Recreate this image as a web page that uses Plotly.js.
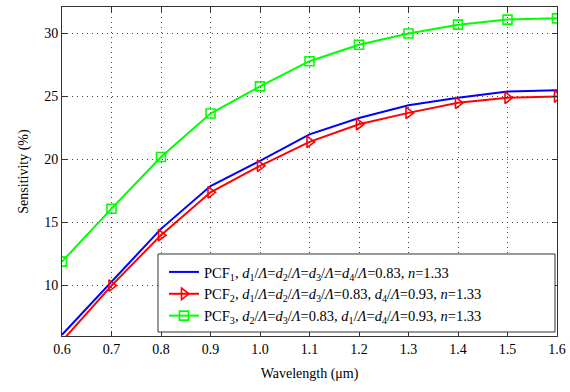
<!DOCTYPE html>
<html><head><meta charset="utf-8">
<script src="https://cdn.plot.ly/plotly-3.0.1.min.js"></script>
<style>body{margin:0;background:#fff}#c{width:570px;height:392px}</style>
</head><body><div id="c"></div>
<script>
const wavelength = [0.6,0.7,0.8,0.9,1.0,1.1,1.2,1.3,1.4,1.5,1.6];
const pcf1 = [6.1,10.3,14.5,17.9,19.9,22.0,23.3,24.3,24.9,25.4,25.5];
const pcf2 = [5.6,10.0,14.0,17.4,19.5,21.4,22.8,23.7,24.5,24.9,25.0];
const pcf3 = [11.9,16.1,20.2,23.65,25.8,27.8,29.1,30.0,30.7,31.1,31.2];
const xTicks = [0.6,0.7,0.8,0.9,1.0,1.1,1.2,1.3,1.4,1.5,1.6];
const xTickText = ['0.6','0.7','0.8','0.9','1.0','1.1','1.2','1.3','1.4','1.5','1.6'];
const yTicks = [10,15,20,25,30];
const names = [
 'PCF<sub>1</sub>, <i>d</i><sub>1</sub>/<i>Λ</i>=<i>d</i><sub>2</sub>/<i>Λ</i>=<i>d</i><sub>3</sub>/<i>Λ</i>=<i>d</i><sub>4</sub>/<i>Λ</i>=0.83, <i>n</i>=1.33',
 'PCF<sub>2</sub>, <i>d</i><sub>1</sub>/<i>Λ</i>=<i>d</i><sub>2</sub>/<i>Λ</i>=<i>d</i><sub>3</sub>/<i>Λ</i>=0.83, <i>d</i><sub>4</sub>/<i>Λ</i>=0.93, <i>n</i>=1.33',
 'PCF<sub>3</sub>, <i>d</i><sub>2</sub>/<i>Λ</i>=<i>d</i><sub>3</sub>/<i>Λ</i>=0.83, <i>d</i><sub>1</sub>/<i>Λ</i>=<i>d</i><sub>4</sub>/<i>Λ</i>=0.93, <i>n</i>=1.33'
];
const FAM = 'Times New Roman, Liberation Serif, DejaVu Serif, serif';
function F(s){return {family:FAM, color:'#000', size:s};}
const traces = [
 {x:wavelength,y:pcf1,name:names[0],mode:'lines',line:{color:'#0000ff',width:2}},
 {x:wavelength,y:pcf2,name:names[1],mode:'lines+markers',line:{color:'#ff0000',width:2},
  marker:{symbol:'triangle-right-open',size:10,color:'#ff0000',line:{width:1.6,color:'#ff0000'}}},
 {x:wavelength,y:pcf3,name:names[2],mode:'lines+markers',line:{color:'#00ff00',width:2},
  marker:{symbol:'square-open',size:9,color:'#00ff00',line:{width:1.6,color:'#00ff00'}}}
];
function ax(){return {showline:true,mirror:'ticks',linecolor:'#333',linewidth:1,ticks:'inside',ticklen:5,tickcolor:'#333',
  showgrid:true,gridcolor:'#444',griddash:'1px,4px',gridwidth:1,zeroline:false,tickfont:F(14)};}
const layout = {
 width:570,height:392,margin:{l:62,r:13,t:7,b:56},
 paper_bgcolor:'#fff',plot_bgcolor:'#fff',font:F(14),showlegend:true,
 xaxis:Object.assign(ax(),{range:[0.6,1.6],tickvals:xTicks,ticktext:xTickText,
   title:{text:'Wavelength (μm)',font:F(14),standoff:12}}),
 yaxis:Object.assign(ax(),{range:[6,32.1],tickvals:yTicks,
   title:{text:'Sensitivity (%)',font:F(14),standoff:12}}),
 shapes:[{type:'rect',xref:'paper',yref:'paper',x0:(158-62)/495,x1:(555-62)/495,y0:(336-332)/329,y1:(336-254)/329,
   fillcolor:'#fff',line:{color:'#333',width:1},layer:'above'}],
 legend:{x:(164-62)/495,y:(336-256)/329,xanchor:'left',yanchor:'top',bgcolor:'rgba(0,0,0,0)',borderwidth:0,
   font:F(14.5),tracegroupgap:0,itemwidth:30}
};
Plotly.newPlot('c',traces,layout,{displayModeBar:false,staticPlot:true});
</script></body></html>
